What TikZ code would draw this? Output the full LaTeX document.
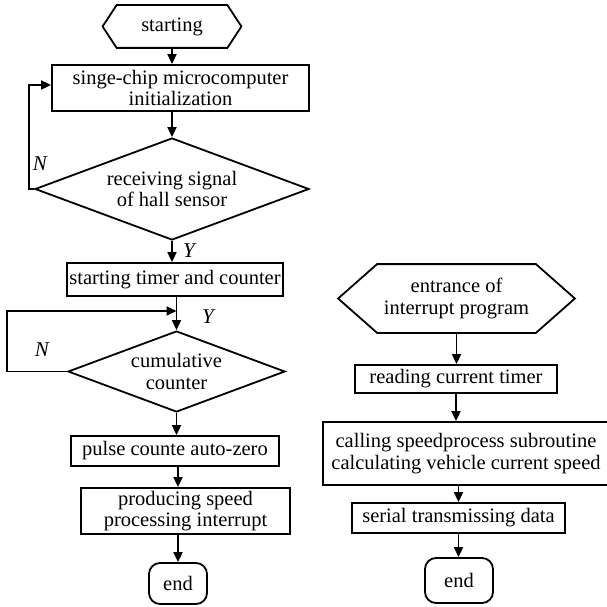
\documentclass[tikz,border=0pt]{standalone}
\usepackage{fontspec}
\setmainfont{Liberation Serif}
\usetikzlibrary{arrows.meta,shapes.geometric}
\begin{document}
\begin{tikzpicture}[x=1pt,y=-1pt,
  font=\fontsize{20.5}{21.5}\selectfont,
  line width=1.8pt,
  proc/.style={draw, rectangle, inner sep=0pt, align=center},
  core/.style={rectangle, inner sep=0pt, align=center},
  dec/.style={draw, diamond, inner sep=0pt, align=center},
  term/.style={draw, rectangle, rounded corners=11pt, inner sep=0pt},
  flow/.style={-{Triangle[length=10pt,width=9pt]}},
  lbl/.style={inner sep=0pt, font=\fontsize{21}{21}\selectfont\itshape}]
\useasboundingbox (0,0) rectangle (607,607);
\clip (0,0) rectangle (607,607);

% ---- main program ----
\node[core, minimum width=109pt, minimum height=41pt] (s) at (172,26.5) {starting};
\draw ([xshift=-14pt]s.west) -- (s.north west) -- (s.north east)
  -- ([xshift=14pt]s.east) -- (s.south east) -- (s.south west) -- cycle;

\node[proc, minimum width=257pt, minimum height=46pt] (b1) at (180.5,88)
  {singe-chip microcomputer\\initialization};
\node[dec, minimum width=274pt, minimum height=102pt, aspect=2.69] (d1) at (172,189)
  {receiving signal\\of hall sensor};
\node[proc, minimum width=216pt, minimum height=33pt] (b2) at (175,279.5)
  {starting timer and counter};
\node[dec, minimum width=217pt, minimum height=81pt, aspect=2.68] (d2) at (176.5,371.5)
  {cumulative\\counter};
\node[proc, minimum width=208pt, minimum height=30pt] (b3) at (175,451)
  {pulse counte auto-zero};
\node[proc, minimum width=209pt, minimum height=46pt] (b4) at (185.5,511)
  {producing speed\\processing interrupt};
\node[term, minimum width=58pt, minimum height=41pt] (e1) at (178,583.5) {end};

\coordinate (m) at (176.5,311);

\draw[flow] (s.south) -- (s.south |- b1.north);
\draw[flow] (d1.north |- b1.south) -- (d1.north);
\draw[flow] (d1.west) -- ++(-5,0) |- ([yshift=3pt]b1.west);
\draw[flow] (d1.south) -- (d1.south |- b2.north);
\draw (m |- b2.south) -- (m);
\draw[flow] (m) -- (d2.north);
\draw[flow] (d2.west) -- ++(-60,0) |- (m);
\draw[flow] (d2.south) -- (d2.south |- b3.north);
\draw[flow] ([xshift=3pt]b3.south) -- ([xshift=3pt]b3.south |- b4.north);
\draw[flow] (e1.north |- b4.south) -- (e1.north);

\node[lbl] (n1) at (40,164) {N};
\node[lbl] (y1) at (189,251) {Y};
\node[lbl] (y2) at (208,317) {Y};
\node[lbl] (n2) at (42,350) {N};

% ---- interrupt program ----
\node[core, minimum width=157pt, minimum height=67pt] (h2) at (456.5,298.5)
  {entrance of\\interrupt program};
\draw ([xshift=-39pt]h2.west) -- (h2.north west) -- (h2.north east)
  -- ([xshift=39pt]h2.east) -- (h2.south east) -- (h2.south west) -- cycle;

\node[proc, minimum width=202pt, minimum height=28pt] (b5) at (456,379)
  {reading current timer};
\node[proc, minimum width=286pt, minimum height=63pt] (b6) at (466,453.5)
  {calling speedprocess subroutine\\calculating vehicle current speed};
\node[proc, minimum width=213pt, minimum height=30pt] (b7) at (458.5,518)
  {serial transmissing data};
\node[term, minimum width=68pt, minimum height=45pt] (e2) at (459,580.5) {end};

\draw[flow] (h2.south) -- (h2.south |- b5.north);
\draw[flow] (b5.south) -- (b5.south |- b6.north);
\draw[flow] (b7.north |- b6.south) -- (b7.north);
\draw[flow] (b7.south) -- (b7.south |- e2.north);
\end{tikzpicture}
\end{document}
